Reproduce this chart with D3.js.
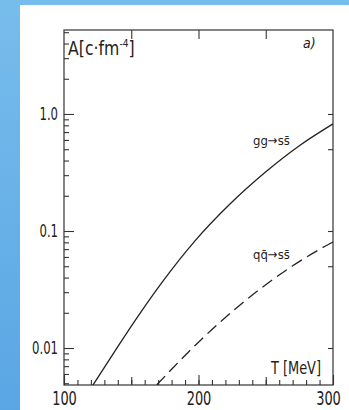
<!DOCTYPE html>
<html>
<head>
<meta charset="utf-8">
<script src="https://cdn.jsdelivr.net/npm/d3@7/dist/d3.min.js"></script>
<style>
  body { margin: 0; background: #fff; }
  svg text { font-family: "Liberation Sans Narrow", "DejaVu Sans Condensed", "Liberation Sans", sans-serif; fill: #222; }
</style>
</head>
<body>
<svg id="chart" width="349" height="410"></svg>
<script>
// gg -> s sbar, solid curve (T in MeV, A in c fm^-4)
const tempGG = [121.6, 139.4, 156.5, 175.1, 197.4, 223.4, 249.4, 275.5, 300];
const rateGG = [0.00483, 0.01004, 0.0198, 0.0394, 0.0824, 0.170, 0.316, 0.541, 0.824];

// q qbar -> s sbar, dashed curve
const tempQQ = [169, 180, 190, 200, 210, 220, 230, 240, 250, 260, 270, 280, 290, 300];
const rateQQ = [0.00485, 0.00658, 0.00864, 0.01122, 0.01439, 0.01826, 0.0229, 0.02837, 0.03476, 0.0421, 0.0504, 0.0596, 0.0697, 0.0805];

const xLabels = [100, 200, 300];
const yLabels = [0.01, 0.1, 1.0];
const yLabelText = ["0.01", "0.1", "1.0"];

const svg = d3.select("#chart");

// blue page background with the white sheet on top
const grad = svg.append("defs").append("linearGradient")
  .attr("id", "bg").attr("x1", 0).attr("y1", 0).attr("x2", 0).attr("y2", 1);
grad.append("stop").attr("offset", "0%").attr("stop-color", "#77bdec");
grad.append("stop").attr("offset", "100%").attr("stop-color", "#5aa6e4");
svg.append("rect").attr("width", 349).attr("height", 410).attr("fill", "url(#bg)");
svg.append("rect").attr("x", 20).attr("y", 5).attr("width", 329).attr("height", 405).attr("fill", "#fff");

const plotLeft = 64, plotRight = 333, plotTop = 30, plotBottom = 385;
const squeeze = 0.72; // the scanned lettering is narrow

const x = d3.scaleLinear().domain([100, 300]).range([plotLeft, plotRight]);
const y = d3.scaleLog().domain([0.00483, 5.22]).range([plotBottom, plotTop]);

// frame
svg.append("rect")
  .attr("x", plotLeft).attr("y", plotTop)
  .attr("width", plotRight - plotLeft).attr("height", plotBottom - plotTop)
  .attr("fill", "none").attr("stroke", "#333").attr("stroke-width", 1.2);

function clean(g) {
  g.select(".domain").remove();
  g.selectAll(".tick line").attr("stroke", "#333").attr("stroke-width", 1.1);
}

// bottom ticks
svg.append("g").attr("transform", "translate(0," + plotBottom + ")")
  .call(d3.axisBottom(x).tickValues(d3.range(110, 300, 10)).tickSize(-5).tickFormat(""))
  .call(clean);
svg.append("g").attr("transform", "translate(0," + plotBottom + ")")
  .call(d3.axisBottom(x).tickValues([150, 250]).tickSize(-8).tickFormat(""))
  .call(clean);
svg.append("g").attr("transform", "translate(0," + plotBottom + ")")
  .call(d3.axisBottom(x).tickValues(xLabels).tickSize(-10).tickPadding(4).tickFormat(d3.format("d")))
  .call(clean)
  .selectAll("text")
  .attr("font-size", 20).attr("dy", "0.8em")
  .attr("x", d => d === 300 ? -5 / squeeze : 0)
  .attr("transform", "scale(" + squeeze + ",1)");

// top ticks
svg.append("g").attr("transform", "translate(0," + plotTop + ")")
  .call(d3.axisTop(x).tickValues([150, 200, 250]).tickSize(-9).tickFormat(""))
  .call(clean);

// left ticks (log minor + labelled decades)
const minor = y.ticks().filter(d => yLabels.indexOf(d) < 0 && d > 0.0049);
svg.append("g").attr("transform", "translate(" + plotLeft + ",0)")
  .call(d3.axisLeft(y).tickValues(minor).tickSize(-5).tickFormat(""))
  .call(clean);
svg.append("g").attr("transform", "translate(" + plotLeft + ",0)")
  .call(d3.axisLeft(y).tickValues(yLabels).tickSize(-10)
    .tickFormat((d, i) => yLabelText[i]))
  .call(clean)
  .selectAll("text")
  .attr("font-size", 18)
  .attr("x", -6 / squeeze)
  .attr("transform", "scale(" + squeeze + ",1)");

// right ticks
svg.append("g").attr("transform", "translate(" + plotRight + ",0)")
  .call(d3.axisRight(y).tickValues([0.01, 0.05, 0.1, 0.5, 1.0]).tickSize(-5).tickFormat(""))
  .call(clean);

// curves
const line = d3.line().curve(d3.curveMonotoneX);
svg.append("path")
  .attr("d", line(tempGG.map((t, i) => [x(t), y(rateGG[i])])))
  .attr("fill", "none").attr("stroke", "#222").attr("stroke-width", 1.3);
svg.append("path")
  .attr("d", line(tempQQ.map((t, i) => [x(t), y(rateQQ[i])])))
  .attr("fill", "none").attr("stroke", "#222").attr("stroke-width", 1.3)
  .attr("stroke-dasharray", "12,6");

// texts
const yTitle = svg.append("text").attr("font-size", 19)
  .attr("transform", "translate(68,55) scale(0.92,1)");
yTitle.append("tspan").text("A[c\u00b7fm");
yTitle.append("tspan").attr("font-size", 11).attr("dy", -8).text("-4");
yTitle.append("tspan").attr("dy", 8).text("]");

svg.append("text").attr("x", 303).attr("y", 48).attr("font-size", 14)
  .attr("font-style", "italic").text("a)");

svg.append("text").attr("font-size", 18)
  .attr("text-anchor", "end")
  .attr("transform", "translate(321,374) scale(0.8,1)")
  .text("T [MeV]");

svg.append("text").attr("x", 253).attr("y", 145).attr("font-size", 13)
  .attr("fill", "#444").text("gg\u2192ss\u0304");
svg.append("text").attr("x", 253).attr("y", 259).attr("font-size", 13)
  .attr("fill", "#444").text("qq\u0304\u2192ss\u0304");
</script>
</body>
</html>
